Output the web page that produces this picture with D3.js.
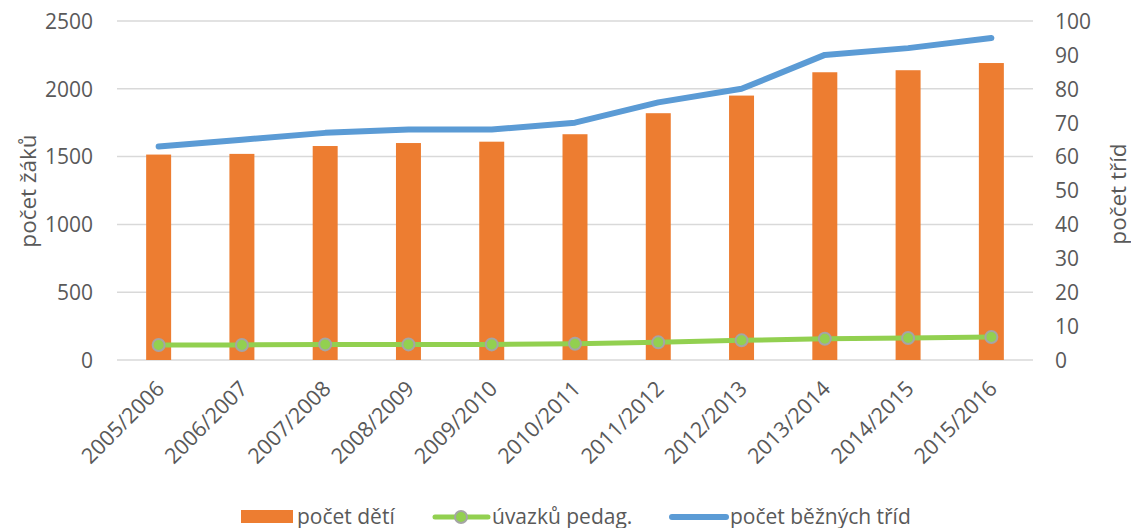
<!DOCTYPE html>
<html><head><meta charset="utf-8">
<script src="https://cdn.jsdelivr.net/npm/d3@7"></script>
<style>body{margin:0;background:#fff}svg{display:block}text{font-family:"Open Sans",sans-serif;fill:#595959}</style>
</head><body>
<svg id="c" width="1131" height="528"></svg>
<script>
const categories = ["2005/2006","2006/2007","2007/2008","2008/2009","2009/2010","2010/2011","2011/2012","2012/2013","2013/2014","2014/2015","2015/2016"];
const pocetDeti = [1515,1520,1578,1600,1610,1665,1820,1950,2122,2137,2190];
const uvazkuPedag = [111,111,115,115,115,120,130,145,157,162,170];
const pocetTrid = [63,65,67,68,68,70,76,80,90,92,95];
const leftTicks = [0,500,1000,1500,2000,2500];
const rightTicks = [0,10,20,30,40,50,60,70,80,90,100];

const svg = d3.select("#c");
const L = 117, R = 1033, T = 21, B = 360;
const x = d3.scaleBand().domain(categories).range([L, R]).paddingInner(0.7).paddingOuter(0.35);
const yL = d3.scaleLinear().domain([0, 2500]).range([B, T]);
const yR = d3.scaleLinear().domain([0, 100]).range([B, T]);
const cx = d => x(d) + x.bandwidth() / 2;

// gridlines
svg.append("g").selectAll("line").data(leftTicks).join("line")
  .attr("x1", L).attr("x2", R).attr("y1", d => yL(d)).attr("y2", d => yL(d))
  .attr("stroke", "#D9D9D9").attr("stroke-width", 1.5);

// left axis labels
const gl = svg.append("g").attr("transform", `translate(${L - 24},0)`)
  .call(d3.axisLeft(yL).tickValues(leftTicks).tickFormat(d3.format("d")).tickSize(0).tickPadding(0));
gl.select(".domain").remove();
gl.selectAll("text").attr("font-size", 21).style("font-family", "Open Sans").attr("fill", "#595959").attr("dy", "0.35em");

// right axis labels
const gr = svg.append("g").attr("transform", `translate(${R + 22},0)`)
  .call(d3.axisRight(yR).tickValues(rightTicks).tickFormat(d3.format("d")).tickSize(0).tickPadding(0));
gr.select(".domain").remove();
gr.selectAll("text").attr("font-size", 21).style("font-family", "Open Sans").attr("fill", "#595959").attr("dy", "0.35em");

// bars
svg.append("g").selectAll("rect").data(categories).join("rect")
  .attr("x", d => x(d)).attr("width", x.bandwidth())
  .attr("y", (d, i) => yL(pocetDeti[i])).attr("height", (d, i) => B - yL(pocetDeti[i]))
  .attr("fill", "#ED7D31");

// x axis labels
const gx = svg.append("g").attr("transform", `translate(0,${B})`)
  .call(d3.axisBottom(x).tickSize(0).tickPadding(0));
gx.select(".domain").remove();
gx.selectAll("text").attr("font-size", 21.5).style("font-family", "Open Sans").attr("fill", "#595959")
  .attr("text-anchor", "end").attr("dy", null)
  .attr("transform", "translate(7,30) rotate(-45)");

// blue line
const lineR = d3.line().x((d, i) => cx(categories[i])).y(d => yR(d));
svg.append("path").datum(pocetTrid).attr("d", lineR).attr("fill", "none")
  .attr("stroke", "#5B9BD5").attr("stroke-width", 6).attr("stroke-linecap", "round").attr("stroke-linejoin", "round");

// green line
const lineL = d3.line().x((d, i) => cx(categories[i])).y(d => yL(d));
svg.append("path").datum(uvazkuPedag).attr("d", lineL).attr("fill", "none")
  .attr("stroke", "#92D050").attr("stroke-width", 5).attr("stroke-linejoin", "round");
svg.append("g").selectAll("circle").data(uvazkuPedag).join("circle")
  .attr("cx", (d, i) => cx(categories[i])).attr("cy", d => yL(d)).attr("r", 6)
  .attr("fill", "#92D050").attr("stroke", "#A5A5A5").attr("stroke-width", 2);

// axis titles
svg.append("text").attr("transform", "translate(36,191) rotate(-90)").attr("text-anchor", "middle")
  .attr("font-size", 22.5).text("počet žáků");
svg.append("text").attr("transform", "translate(1126,194) rotate(-90)").attr("text-anchor", "middle")
  .attr("font-size", 22.5).text("počet tříd");

// legend
const lg = svg.append("g");
const ly = 517;
lg.append("rect").attr("x", 241).attr("y", ly - 7).attr("width", 52).attr("height", 13).attr("fill", "#ED7D31");
lg.append("text").attr("x", 297).attr("y", ly).attr("dy", "0.35em").attr("font-size", 21).text("počet dětí");
lg.append("line").attr("x1", 435).attr("x2", 488).attr("y1", ly).attr("y2", ly)
  .attr("stroke", "#92D050").attr("stroke-width", 5).attr("stroke-linecap", "round");
lg.append("circle").attr("cx", 461).attr("cy", ly).attr("r", 6).attr("fill", "#92D050").attr("stroke", "#A5A5A5").attr("stroke-width", 2);
lg.append("text").attr("x", 492).attr("y", ly).attr("dy", "0.35em").attr("font-size", 21).text("úvazků pedag.");
lg.append("line").attr("x1", 672).attr("x2", 726).attr("y1", ly).attr("y2", ly)
  .attr("stroke", "#5B9BD5").attr("stroke-width", 6).attr("stroke-linecap", "round");
lg.append("text").attr("x", 730).attr("y", ly).attr("dy", "0.35em").attr("font-size", 21).text("počet běžných tříd");
</script>
</body></html>
